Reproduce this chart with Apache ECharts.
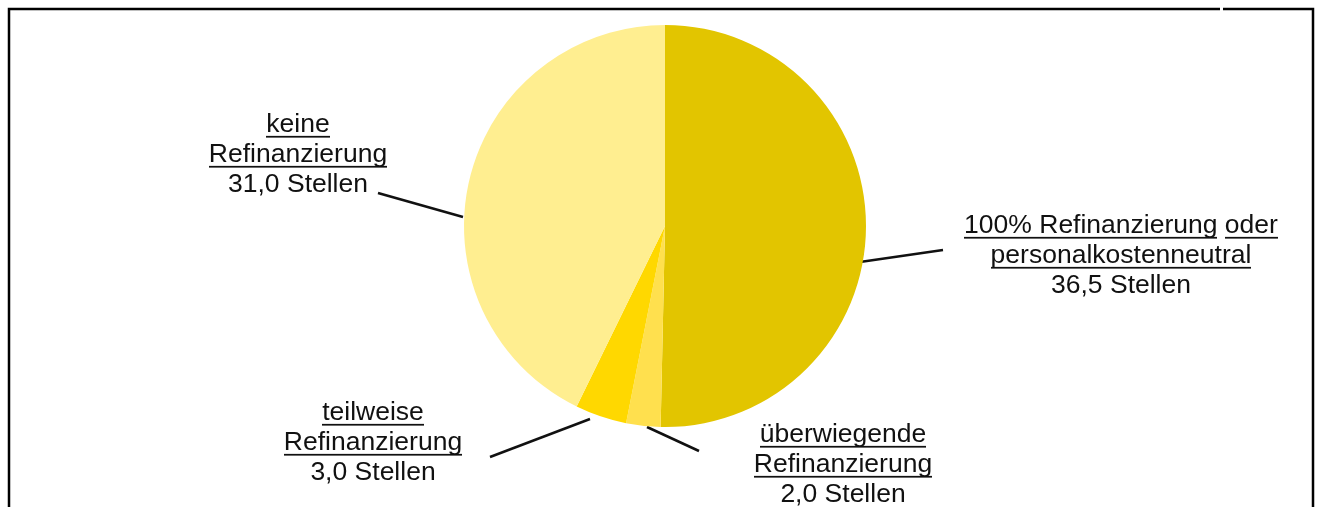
<!DOCTYPE html>
<html>
<head>
<meta charset="utf-8">
<script src="https://cdn.jsdelivr.net/npm/echarts@6/dist/echarts.min.js"></script>
<style>
  html, body { margin: 0; padding: 0; background: #fff; }
  #chart { width: 1319px; height: 507px; }
</style>
</head>
<body>
<div id="chart"></div>
<script>
    // Daten (Stellen nach Art der Refinanzierung)
    var titles = [
        ['100% Refinanzierung', ' ', 'oder', '\n', 'personalkostenneutral'],
        ['überwiegende', '\n', 'Refinanzierung'],
        ['teilweise', '\n', 'Refinanzierung'],
        ['keine', '\n', 'Refinanzierung']
    ];
    var values = [36.5, 2.0, 3.0, 31.0];
    var colors = ['#E2C500', '#FFE04E', '#FFD800', '#FFEE90'];

    // Beschriftungen: Mittelpunkt des Textblocks und Linie (Pixel)
    var labelPos = [[1121, 256], [843, 465], [373, 443], [298, 155]];
    var linePts = [
        [[860, 262], [943, 250]],
        [[647, 427], [699, 451]],
        [[590, 419], [490, 457]],
        [[463, 217], [378, 193]]
    ];

    // Unterstreichung als Hintergrundbild (Linie unten im Zeilenkasten)
    var ul = document.createElement('canvas');
    ul.width = 4;
    ul.height = 30;
    var ctx = ul.getContext('2d');
    ctx.fillStyle = '#111';
    ctx.fillRect(0, 27, 4, 2);

    var chartDom = document.getElementById('chart');
    var myChart = echarts.init(chartDom);

    var data = [];
    for (let i = 0; i < values.length; i++) {
        data.push({
            name: titles[i].join(''),
            value: values[i],
            itemStyle: { color: colors[i] }
        });
    }

    var font = 'Liberation Sans, Arial, sans-serif';

    myChart.setOption({
        backgroundColor: '#fff',
        animation: false,
        graphic: [
            { type: 'polyline', shape: { points: [[9, 507], [9, 9], [1220, 9]] }, style: { stroke: '#000', lineWidth: 2.5, fill: null } },
            { type: 'polyline', shape: { points: [[1223, 9], [1313, 9], [1313, 507]] }, style: { stroke: '#000', lineWidth: 2.5, fill: null } }
        ],
        series: [{
            type: 'pie',
            center: [665, 226],
            radius: 201,
            startAngle: 90,
            clockwise: true,
            data: data,
            label: {
                show: true,
                position: 'outside',
                color: '#111',
                fontFamily: font,
                fontSize: 26.5,
                lineHeight: 30,
                align: 'center',
                formatter: function (p) {
                    var parts = titles[p.dataIndex];
                    var s = '';
                    parts.forEach(function (t) {
                        if (t === '\n' || t === ' ') s += t;
                        else s += '{u|' + t + '}';
                    });
                    s += '\n{v|' + p.value.toFixed(1).replace('.', ',') + ' Stellen}';
                    return s;
                },
                rich: {
                    u: {
                        fontSize: 26.5, lineHeight: 30, color: '#111',
                        fontFamily: font,
                        backgroundColor: { image: ul }
                    },
                    v: {
                        fontSize: 26.5, lineHeight: 30, color: '#111',
                        fontFamily: font
                    }
                }
            },
            labelLine: {
                show: true,
                lineStyle: { color: '#111', width: 2.5 }
            },
            labelLayout: function (params) {
                var i = params.dataIndex;
                var pts = linePts[i];
                return {
                    x: labelPos[i][0],
                    y: labelPos[i][1],
                    align: 'center',
                    verticalAlign: 'middle',
                    labelLinePoints: [pts[0], pts[1], pts[1]]
                };
            },
            emphasis: { disabled: true }
        }]
    });
</script>
</body>
</html>
